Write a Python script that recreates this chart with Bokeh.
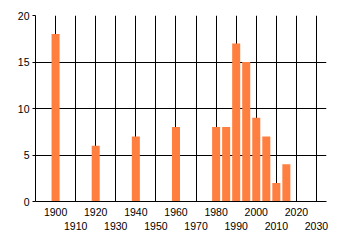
from bokeh.plotting import figure
from bokeh.models import FixedTicker, Range1d
from bokeh.embed import file_html
from bokeh.resources import INLINE

years = [1900, 1920, 1940, 1960, 1980, 1985, 1990, 1995, 2000, 2005, 2010, 2015]
counts = [18, 6, 7, 8, 8, 8, 17, 15, 9, 7, 2, 4]
x_ticks = list(range(1900, 2031, 10))
y_ticks = [0, 5, 10, 15, 20]

p = figure(width=340, height=245, output_backend="svg", toolbar_location=None,
           x_range=Range1d(1890, 2035), y_range=Range1d(0, 20),
           min_border_left=35, min_border_right=14, min_border_top=15, min_border_bottom=44)
p.background_fill_color = "white"
p.border_fill_color = "white"
p.outline_line_color = None

p.vbar(x=years, top=counts, width=4, color="#FF7F40", line_color=None)

font = "Liberation Sans"
# x axis: labels alternate on two rows, tick marks at odd decades
p.xaxis.ticker = FixedTicker(ticks=x_ticks, minor_ticks=[t for t in x_ticks if (t // 10) % 2 == 1])
p.xaxis.major_label_overrides = {t: (str(t) if (t // 10) % 2 == 0 else "\n" + str(t)) for t in x_ticks}
p.xaxis.major_tick_out = 0
p.xaxis.major_tick_in = 0
p.xaxis.minor_tick_out = 4
p.xaxis.minor_tick_in = 0
p.xaxis.major_label_standoff = 0

p.yaxis.ticker = FixedTicker(ticks=y_ticks)
p.yaxis.major_tick_out = 3
p.yaxis.major_tick_in = 0
p.yaxis.minor_tick_line_color = None
p.yaxis.major_label_standoff = 3

for ax in (p.xaxis, p.yaxis):
    ax.axis_line_color = "black"
    ax.major_tick_line_color = "black"
    ax.minor_tick_line_color = "black" if ax is p.xaxis else None
    ax.major_label_text_font = font
    ax.major_label_text_font_size = "10.5px"
    ax.major_label_text_color = "#000000"

p.xgrid.ticker = FixedTicker(ticks=x_ticks)
p.ygrid.ticker = FixedTicker(ticks=y_ticks)
p.xgrid.grid_line_color = "black"
p.ygrid.grid_line_color = "black"
p.xgrid.grid_line_width = 1
p.ygrid.grid_line_width = 1

open("out.html", "w").write(file_html(p, INLINE))
